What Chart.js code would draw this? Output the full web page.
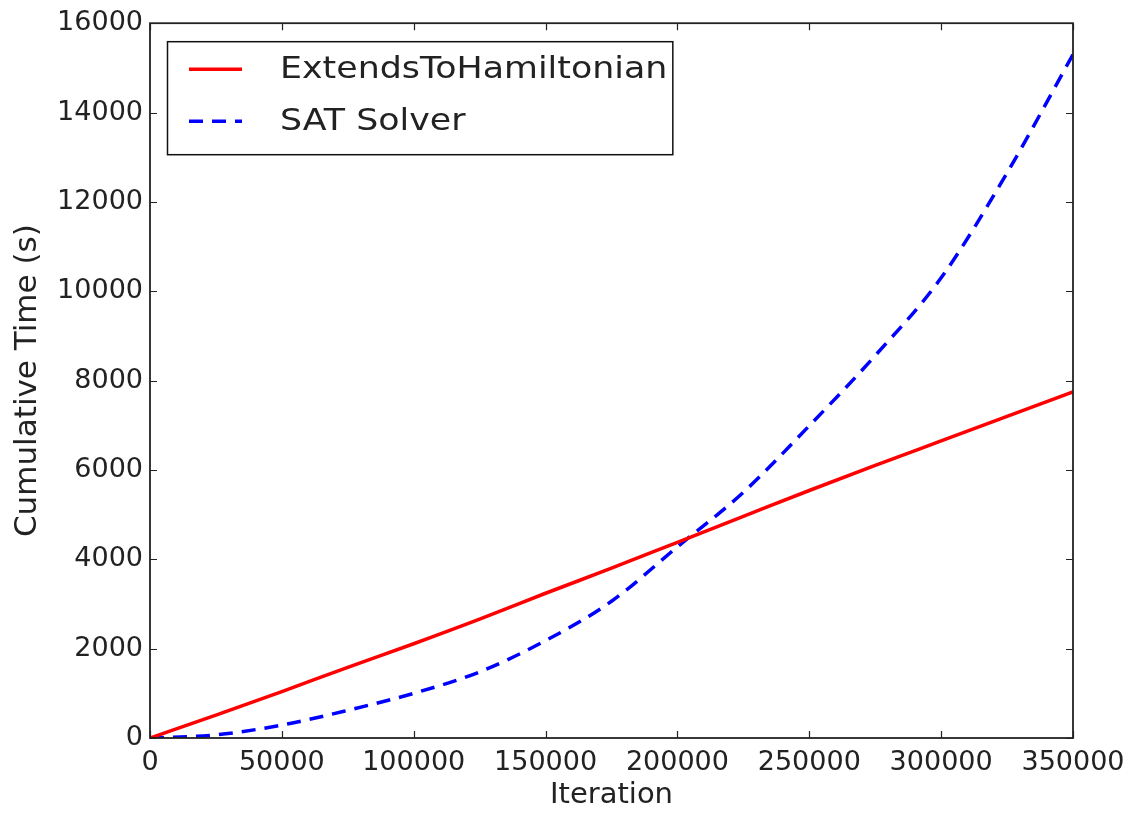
<!DOCTYPE html>
<html>
<head>
<meta charset="utf-8">
<script src="https://cdn.jsdelivr.net/npm/chart.js@4.4.1/dist/chart.umd.min.js"></script>
<style>
  html, body { margin: 0; padding: 0; background: #fff; }
  #wrap { width: 1137px; height: 815px; position: relative; }
</style>
</head>
<body>
<div id="wrap"><canvas id="time-chart"></canvas></div>
<script>
// data
const iterations = [0, 25000, 50000, 75000, 100000, 125000, 150000, 175000, 200000,
                    225000, 250000, 275000, 300000, 325000, 350000];
const extendsTime = [0, 510, 1040, 1580, 2110, 2660, 3240, 3800, 4380,
                     4960, 5540, 6100, 6650, 7200, 7750];
const satTime = [0, 70, 290, 620, 1000, 1480, 2180, 3060, 4280,
                 5500, 6990, 8560, 10300, 12650, 15300];
const xTicks = [0, 50000, 100000, 150000, 200000, 250000, 300000, 350000];
const yTicks = [0, 2000, 4000, 6000, 8000, 10000, 12000, 14000, 16000];

const FONT = 'DejaVu Sans';
const TXT = '#222';

// inward tick marks on all four sides + frame
const frame = {
    id: 'frame',
    afterDatasetsDraw(chart) {
        const {ctx, chartArea: a, scales} = chart;
        const len = 7;
        ctx.save();
        ctx.strokeStyle = '#222';
        ctx.lineWidth = 1.2;
        ctx.beginPath();
        xTicks.forEach(v => {
            const px = Math.round(scales.x.getPixelForValue(v)) + 0.5;
            ctx.moveTo(px, a.bottom); ctx.lineTo(px, a.bottom - len);
            ctx.moveTo(px, a.top); ctx.lineTo(px, a.top + len);
        });
        yTicks.forEach(v => {
            const py = Math.round(scales.y.getPixelForValue(v)) + 0.5;
            ctx.moveTo(a.left, py); ctx.lineTo(a.left + len, py);
            ctx.moveTo(a.right, py); ctx.lineTo(a.right - len, py);
        });
        ctx.stroke();
        ctx.lineWidth = 1.8;
        ctx.strokeRect(a.left, a.top, a.right - a.left, a.bottom - a.top);
        ctx.restore();
    }
};

// matplotlib-style legend box, upper left
const boxLegend = {
    id: 'boxLegend',
    afterDraw(chart) {
        const {ctx, chartArea: a} = chart;
        const x0 = a.left + 17, y0 = a.top + 18;
        const stretch = 1.16; // legend text is wider in the original
        ctx.save();
        ctx.font = '30px "' + FONT + '"';
        const sets = chart.data.datasets;
        const tw = Math.max(...sets.map(d => ctx.measureText(d.label).width)) * stretch;
        const w = 113 + tw + 5, h = 113;
        ctx.fillStyle = '#fff';
        ctx.fillRect(x0, y0, w, h);
        ctx.strokeStyle = '#111';
        ctx.lineWidth = 1.5;
        ctx.strokeRect(x0 + 0.5, y0 + 0.5, w, h);
        sets.forEach((d, i) => {
            const y = y0 + 28 + i * 52;
            ctx.strokeStyle = d.borderColor;
            ctx.lineWidth = d.borderWidth;
            ctx.setLineDash(d.borderDash || []);
            ctx.beginPath();
            ctx.moveTo(x0 + 22, y);
            ctx.lineTo(x0 + 75, y);
            ctx.stroke();
            ctx.setLineDash([]);
            ctx.fillStyle = TXT;
            ctx.textBaseline = 'middle';
            ctx.save();
            ctx.translate(x0 + 113, y + 1);
            ctx.scale(stretch, 1);
            ctx.fillText(d.label, 0, 0);
            ctx.restore();
        });
        ctx.restore();
    }
};

const tcx = document.getElementById('time-chart');
Chart.defaults.font.family = FONT;
Chart.defaults.font.size = 27;
Chart.defaults.color = TXT;

const timeChart = new Chart(tcx, {
    type: 'line',
    data: {
        labels: iterations,
        datasets: [
            {
                label: 'ExtendsToHamiltonian',
                data: extendsTime,
                borderColor: '#ff0000',
                borderWidth: 3.5,
                pointRadius: 0,
                cubicInterpolationMode: 'monotone'
            },
            {
                label: 'SAT Solver',
                data: satTime,
                borderColor: '#0000ff',
                borderWidth: 3.5,
                borderDash: [14, 9],
                pointRadius: 0,
                cubicInterpolationMode: 'monotone'
            }
        ]
    },
    options: {
        responsive: true,
        maintainAspectRatio: false,
        animation: false,
        layout: { padding: { top: 22, right: 64, left: 0, bottom: 0 } },
        plugins: {
            legend: { display: false },
            tooltip: { enabled: false }
        },
        scales: {
            x: {
                type: 'linear',
                min: 0,
                max: 350000,
                afterBuildTicks: s => { s.ticks = xTicks.map(v => ({value: v})); },
                afterFit: s => { s.height = 77; },
                grid: { display: false, drawTicks: false },
                border: { display: false },
                ticks: { padding: 9, maxRotation: 0, autoSkip: false, callback: v => String(v) },
                title: { display: true, text: 'Iteration', font: { size: 29 }, padding: { top: 0, bottom: 2 } }
            },
            y: {
                min: 0,
                max: 16000,
                afterBuildTicks: s => { s.ticks = yTicks.map(v => ({value: v})); },
                afterFit: s => { s.width = 150; },
                grid: { display: false, drawTicks: false },
                border: { display: false },
                ticks: { padding: 7, autoSkip: false, callback: v => String(v) },
                title: { display: true, text: 'Cumulative Time (s)', font: { size: 31 }, padding: { top: 9, bottom: 0 } }
            }
        }
    },
    plugins: [frame, boxLegend]
});
</script>
</body>
</html>
